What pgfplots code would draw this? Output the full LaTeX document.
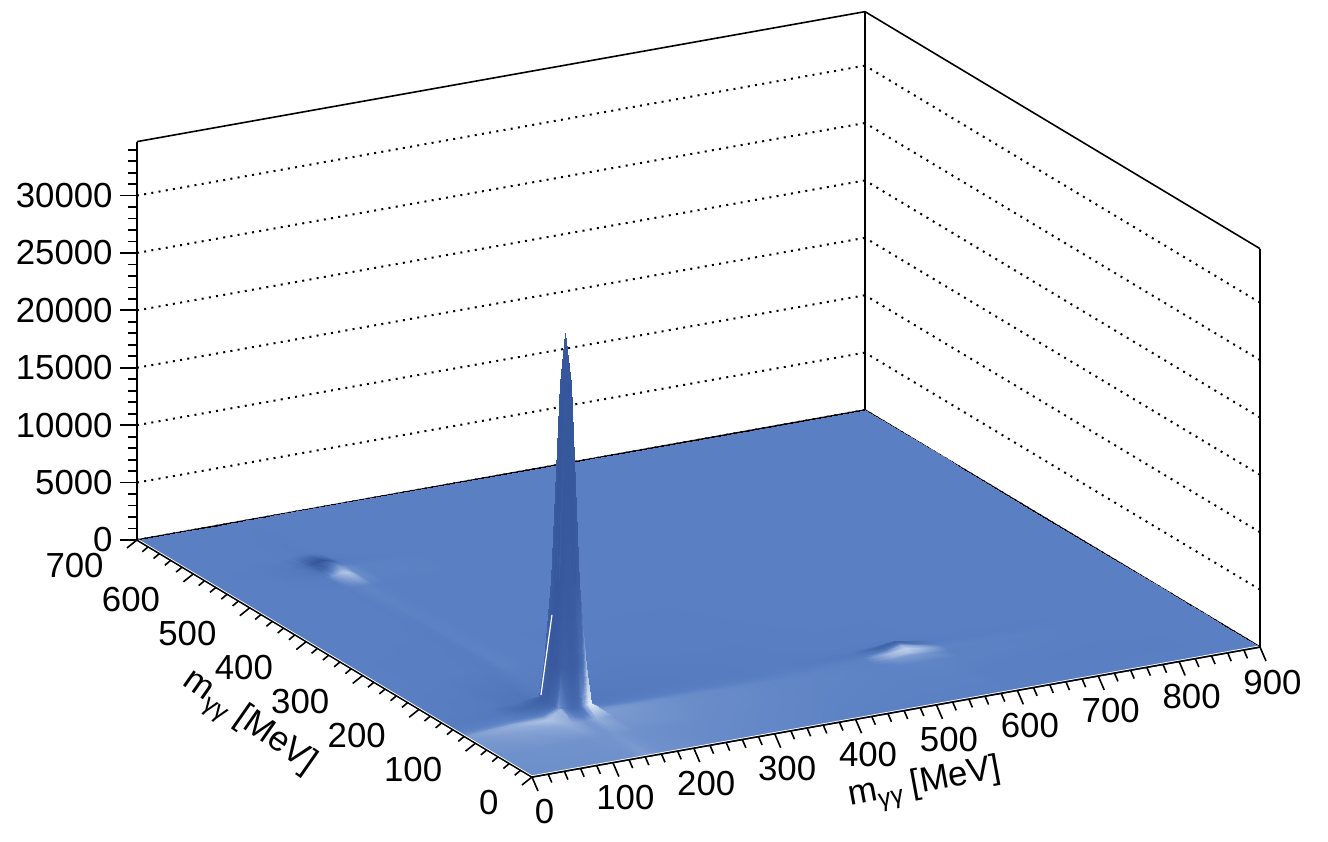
\documentclass[border=0pt]{standalone}
\usepackage{fontspec}
\setmainfont{Liberation Sans}
\usepackage{pgfplots}
\pgfplotsset{compat=1.18}
\newcommand{\mgg}{m\raisebox{-3.5pt}{\fontsize{12.5}{12.5}\selectfont γγ}}
\begin{document}
\begin{tikzpicture}
\path[use as bounding box] (-266pt,-32pt) rectangle (398pt,388.5pt);
\begin{axis}[
  at={(0pt,0pt)}, anchor=origin, clip=false,
  x={(0.40445pt,0.0722pt)}, y={(-0.28215pt,0.1693pt)}, z={(0pt,0.005733pt)},
  xmin=0, xmax=900, ymin=0, ymax=700, zmin=0, zmax=34700,
  xtick={0,100,...,900}, ytick={0,100,...,700}, ztick={0,5000,...,30000},
  xticklabels={0,100,200,300,400,500,600,700,800,900},
  yticklabels={0,100,200,300,400,500,600,700},
  zticklabels={0,5000,10000,15000,20000,25000,30000},
  scaled z ticks=false, scaled x ticks=false, scaled y ticks=false,
  major tick length=0pt, minor tick length=0pt,
  tick style={draw=none},
  axis line style={black,line width=0.8pt},
  zmajorgrids=true,
  major grid style={black,line width=1pt,dash pattern=on 1pt off 2.65pt},
  every tick label/.append style={font=\fontsize{17.4}{18}\selectfont,inner sep=0pt},
  xticklabel style={anchor=center,xshift=6.25pt,yshift=-17.5pt},
  yticklabel style={anchor=east,xshift=-16.5pt,yshift=-13pt},
  zticklabel style={anchor=east,xshift=-12pt},
  xlabel={\mgg\ [MeV]}, ylabel={\mgg\ [MeV]},
  xlabel style={at={(axis cs:364,-170,0)},anchor=center,rotate=10.5,xshift=1pt,yshift=-1.8pt,font=\fontsize{17.4}{18}\selectfont},
  ylabel style={at={(axis cs:-186,236,0)},anchor=center,rotate=-35,font=\fontsize{17.4}{18}\selectfont},
  colormap={blues}{rgb255(0)=(40,70,140) rgb255(10)=(90,128,195) rgb255(20)=(232,240,250)},
  point meta min=-1, point meta max=1,
]
\addplot3[surf,shader=interp,z buffer=sort,mesh/rows=21,point meta=explicit]
 table[x=x,y=y,z=z,meta=m] {
x y z m
0 0 0 .12
60 0 0 .14
100 0 0 .14
116 0 0 .15
120 0 0 .15
125 0 0 .15
131 0 0 .16
135 0 0 .18
139 0 0 .22
145 0 0 .25
150 0 0 .22
154 0 0 .18
170 0 0 .14
260 0 0 .08
400 0 0 .02
500 0 0 0
530 0 0 0
548 0 0 0
566 0 0 0
596 0 0 0
750 0 0 0
900 0 0 0
0 60 0 .14
60 60 130 .16
100 60 140 .16
116 60 150 .17
120 60 160 .17
125 60 170 .17
131 60 180 .17
135 60 190 .17
139 60 180 .18
145 60 170 .2
150 60 160 .18
154 60 150 .17
170 60 140 .14
260 60 120 .1
400 60 110 .04
500 60 100 .02
530 60 110 .02
548 60 120 .02
566 60 110 .02
596 60 100 0
750 60 100 -.02
900 60 0 0
0 100 0 .2
60 100 170 .28
100 100 220 .36
116 100 240 .4
120 100 240 .36
125 100 240 .3
131 100 240 .22
135 100 240 .2
139 100 240 .22
145 100 240 .32
150 100 240 .4
154 100 240 .38
170 100 220 .22
260 100 170 .12
400 100 130 .05
500 100 120 .03
530 100 130 .04
548 100 140 .05
566 100 130 .04
596 100 120 .02
750 100 100 0
900 100 0 0
0 116 0 .25
60 116 260 .42
100 116 320 .6
116 116 1050 .45
120 116 1050 -.1
125 116 1050 -.3
131 116 1050 -.4
135 116 1050 -.4
139 116 1050 -.3
145 116 1050 .35
150 116 1050 .9
154 116 1050 .95
170 116 320 .25
260 116 220 .12
400 116 150 .05
500 116 150 .02
530 116 220 .2
548 116 280 .25
566 116 220 .2
596 116 150 .02
750 116 110 0
900 116 0 0
0 120 0 .22
60 120 280 .38
100 120 340 .45
116 120 1050 .2
120 120 4200 -.5
125 120 4200 -.55
131 120 4200 -.6
135 120 4200 -.6
139 120 4200 -.55
145 120 4200 -.3
150 120 4200 .5
154 120 1050 .6
170 120 340 .2
260 120 240 .1
400 120 160 .04
500 120 170 .03
530 120 320 .45
548 120 450 .6
566 120 320 .4
596 120 170 .03
750 120 110 0
900 120 0 0
0 125 0 .1
60 125 300 .16
100 125 350 .1
116 125 1050 -.3
120 125 4200 -.6
125 125 11300 -.65
131 125 11300 -.65
135 125 11300 -.65
139 125 11300 -.65
145 125 11300 -.6
150 125 4200 -.1
154 125 1050 .15
170 125 350 .04
260 125 250 .03
400 125 170 .02
500 125 190 .02
530 125 420 .55
548 125 640 .72
566 125 420 .55
596 125 190 .03
750 125 110 0
900 125 0 0
0 131 0 .02
60 131 300 .02
100 131 350 -.1
116 131 1050 -.45
120 131 4200 -.65
125 131 11300 -.7
131 131 28600 -.72
135 131 28600 -.72
139 131 28600 -.72
145 131 11300 -.7
150 131 4200 -.5
154 131 1050 -.15
170 131 350 -.06
260 131 250 -.02
400 131 170 0
500 131 200 0
530 131 480 .2
548 131 760 .42
566 131 480 .3
596 131 200 .01
750 131 110 0
900 131 0 0
0 135 0 0
60 135 300 -.02
100 135 350 -.2
116 135 1050 -.5
120 135 4200 -.65
125 135 11300 -.7
131 135 28600 -.72
135 135 33000 -.65
139 135 28600 -.72
145 135 11300 -.7
150 135 4200 -.55
154 135 1050 -.25
170 135 350 -.1
260 135 250 -.04
400 135 170 -.02
500 135 200 -.04
530 135 500 -.2
548 135 800 -.1
566 135 500 0
596 135 200 -.01
750 135 110 0
900 135 0 0
0 139 0 -.02
60 139 300 -.05
100 139 350 -.28
116 139 1050 -.55
120 139 4200 -.68
125 139 11300 -.7
131 139 28600 -.7
135 139 28600 -.72
139 139 28600 -.72
145 139 11300 -.7
150 139 4200 -.6
154 139 1050 -.3
170 139 350 -.12
260 139 250 -.06
400 139 170 -.03
500 139 200 -.1
530 139 480 -.4
548 139 760 -.4
566 139 480 -.25
596 139 200 -.03
750 139 110 0
900 139 0 0
0 145 0 -.05
60 145 300 -.1
100 145 350 -.35
116 145 1050 -.55
120 145 4200 -.62
125 145 11300 -.62
131 145 11300 -.6
135 145 11300 -.6
139 145 11300 -.6
145 145 11300 -.6
150 145 4200 -.55
154 145 1050 -.3
170 145 350 -.13
260 145 250 -.08
400 145 170 -.04
500 145 190 -.12
530 145 420 -.5
548 145 640 -.55
566 145 420 -.35
596 145 190 -.04
750 145 110 -.01
900 145 0 0
0 150 0 -.05
60 150 280 -.12
100 150 340 -.4
116 150 1050 -.55
120 150 4200 -.5
125 150 4200 -.45
131 150 4200 -.4
135 150 4200 -.4
139 150 4200 -.4
145 150 4200 -.45
150 150 4200 -.5
154 150 1050 -.3
170 150 340 -.13
260 150 240 -.08
400 150 160 -.04
500 150 170 -.08
530 150 320 -.25
548 150 450 -.3
566 150 320 -.2
596 150 170 -.02
750 150 110 -.01
900 150 0 0
0 154 0 -.05
60 154 260 -.12
100 154 320 -.4
116 154 1050 -.45
120 154 1050 -.4
125 154 1050 -.35
131 154 1050 -.3
135 154 1050 -.3
139 154 1050 -.3
145 154 1050 -.3
150 154 1050 -.35
154 154 1050 -.25
170 154 320 -.13
260 154 220 -.08
400 154 150 -.04
500 154 150 -.04
530 154 220 -.08
548 154 280 -.1
566 154 220 -.06
596 154 150 -.02
750 154 110 0
900 154 0 0
0 170 0 -.03
60 170 170 -.08
100 170 220 -.18
116 170 240 -.2
120 170 240 -.18
125 170 240 -.13
131 170 240 -.1
135 170 240 -.08
139 170 240 -.08
145 170 240 -.08
150 170 240 -.1
154 170 240 -.1
170 170 220 -.1
260 170 170 -.08
400 170 130 -.04
500 170 120 -.02
530 170 130 -.02
548 170 140 -.02
566 170 130 -.02
596 170 120 0
750 170 100 0
900 170 0 0
0 260 0 0
60 260 120 -.02
100 260 180 -.03
116 260 240 -.05
120 260 250 -.06
125 260 260 -.06
131 260 270 -.05
135 260 280 -.03
139 260 270 .01
145 260 260 .03
150 260 250 .03
154 260 240 .02
170 260 180 0
260 260 120 -.02
400 260 100 -.02
500 260 100 0
530 260 100 0
548 260 110 0
566 260 100 0
596 260 100 0
750 260 100 0
900 260 0 0
0 400 0 0
60 400 100 0
100 400 120 0
116 400 130 -.01
120 400 135 -.02
125 400 140 -.02
131 400 150 -.01
135 400 170 -.01
139 400 150 .01
145 400 140 .01
150 400 135 .01
154 400 130 .01
170 400 120 0
260 400 100 0
400 400 90 0
500 400 90 0
530 400 90 0
548 400 90 0
566 400 90 0
596 400 90 0
750 400 90 0
900 400 0 0
0 500 0 0
60 500 110 0
100 500 140 0
116 500 160 -.01
120 500 170 -.01
125 500 190 .01
131 500 240 .03
135 500 280 .04
139 500 240 .05
145 500 190 .04
150 500 170 .03
154 500 160 .01
170 500 130 0
260 500 100 0
400 500 90 0
500 500 90 0
530 500 90 0
548 500 90 0
566 500 90 0
596 500 90 0
750 500 90 0
900 500 0 0
0 530 0 0
60 530 120 0
100 530 170 -.04
116 530 240 -.05
120 530 300 .1
125 530 380 .3
131 530 470 .5
135 530 520 .58
139 530 470 .62
145 530 380 .55
150 530 290 .32
154 530 240 .12
170 530 160 .02
260 530 110 0
400 530 90 0
500 530 90 0
530 530 90 0
548 530 90 0
566 530 90 0
596 530 90 0
750 530 90 0
900 530 0 0
0 548 0 0
60 548 120 0
100 548 180 -.1
116 548 250 -.2
120 548 320 -.4
125 548 520 -.5
131 548 720 -.3
135 548 800 -.15
139 548 720 0
145 548 520 .15
150 548 320 .2
154 548 250 .1
170 548 160 .02
260 548 110 0
400 548 90 0
500 548 90 0
530 548 90 0
548 548 90 0
566 548 90 0
596 548 90 0
750 548 90 0
900 548 0 0
0 566 0 0
60 566 120 -.02
100 566 170 -.1
116 566 240 -.3
120 566 300 -.55
125 566 380 -.7
131 566 470 -.75
135 566 520 -.75
139 566 470 -.7
145 566 380 -.55
150 566 290 -.3
154 566 240 -.1
170 566 160 -.02
260 566 110 0
400 566 90 0
500 566 90 0
530 566 90 0
548 566 90 0
566 566 90 0
596 566 90 0
750 566 90 0
900 566 0 0
0 596 0 0
60 596 110 0
100 596 130 -.01
116 596 150 -.02
120 596 160 -.03
125 596 170 -.04
131 596 190 -.05
135 596 210 -.04
139 596 190 -.03
145 596 170 -.02
150 596 160 -.01
154 596 150 -.01
170 596 125 0
260 596 100 0
400 596 90 0
500 596 90 0
530 596 90 0
548 596 90 0
566 596 90 0
596 596 90 0
750 596 90 0
900 596 0 0
0 700 0 0
60 700 0 0
100 700 0 0
116 700 0 0
120 700 0 0
125 700 0 0
131 700 0 0
135 700 0 0
139 700 0 0
145 700 0 0
150 700 0 0
154 700 0 0
170 700 0 0
260 700 0 0
400 700 0 0
500 700 0 0
530 700 0 0
548 700 0 0
566 700 0 0
596 700 0 0
750 700 0 0
900 700 0 0
};
\addplot3[white,line width=0.6pt] coordinates {(117.5,152.5,1170) (125.5,144.5,8280)};
\addplot3[black,line width=0.8pt] coordinates {(0,700,0) (0,0,0) (900,0,0)};
\addplot3[white,line width=0.35pt] coordinates {(2,700,0) (2,3,0) (900,3,0)};
\pgfplotsinvokeforeach{0,100,200,300,400,500,600,700,800,900}{\draw[black,line width=0.8pt] (axis cs:#1,0,0) -- ++(3pt,-7pt);}
\pgfplotsinvokeforeach{20,40,60,80,120,140,160,180,220,240,260,280,320,340,360,380,420,440,460,480,520,540,560,580,620,640,660,680,720,740,760,780,820,840,860,880}{\draw[black,line width=0.8pt] (axis cs:#1,0,0) -- ++(1.8pt,-4.2pt);}
\pgfplotsinvokeforeach{0,100,200,300,400,500,600,700}{\draw[black,line width=0.8pt] (axis cs:0,#1,0) -- ++(-5pt,-4pt);}
\pgfplotsinvokeforeach{20,40,60,80,120,140,160,180,220,240,260,280,320,340,360,380,420,440,460,480,520,540,560,580,620,640,660,680}{\draw[black,line width=0.8pt] (axis cs:0,#1,0) -- ++(-3pt,-2.5pt);}
\pgfplotsinvokeforeach{0,5000,10000,15000,20000,25000,30000}{\draw[black,line width=0.9pt] (axis cs:0,700,#1) -- ++(-8.5pt,0pt);}
\pgfplotsinvokeforeach{1000,2000,3000,4000,6000,7000,8000,9000,11000,12000,13000,14000,16000,17000,18000,19000,21000,22000,23000,24000,26000,27000,28000,29000,31000,32000,33000,34000}{\draw[black,line width=0.9pt] (axis cs:0,700,#1) -- ++(-4.5pt,0pt);}
\end{axis}
\end{tikzpicture}
\end{document}
